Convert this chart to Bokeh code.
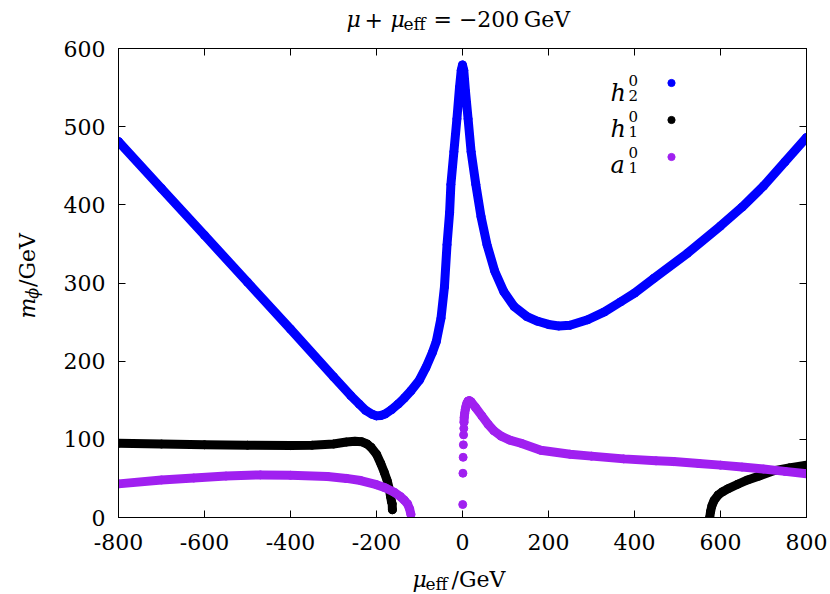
from math import pi
from bokeh.plotting import figure
from bokeh.layouts import column, row
from bokeh.core.properties import value
from bokeh.models import (Range1d, LinearAxis, FixedTicker, Label, Legend,
                          LegendItem, CustomJSTickFormatter)
from bokeh.embed import file_html
from bokeh.resources import INLINE

# ---------------- data ----------------
h2_x = [-800, -700, -600, -500, -400, -300, -260, -240, -225, -210, -200, -190,
        -180, -165, -150, -135, -120, -100, -85, -70, -61, -50, -42, -36, -30,
        -27, -20, -13, -7, -3, 0, 3, 7, 13, 20, 31, 43, 57, 75, 96, 120, 150,
        175, 200, 224, 250, 291, 330, 368, 400, 445, 523, 600, 650, 700, 750, 800]
h2_y = [481, 421, 361, 301, 241, 180, 156, 145, 137, 132, 130, 130.5,
        132.5, 138, 145, 153, 162, 176, 192, 211, 225, 255, 295, 349, 390,
        426, 468, 510, 550, 572, 579, 572, 545, 510, 468, 426, 385, 349, 315, 289, 270, 257,
        251, 247, 245, 246, 253, 263, 276, 287, 306, 338, 373, 397, 424, 455, 486]

h1_left_x = [-800, -700, -600, -500, -400, -350, -300, -270, -250, -235, -222, -213,
             -200, -190, -182, -175, -170, -167, -165, -163.5, -163]
h1_left_y = [95, 94, 93, 92.5, 92, 92.5, 94, 96.5, 97.5, 97, 94, 90,
             81, 69, 58, 47, 36, 26, 20, 17.5, 10]
h1_right_x = [575, 577, 580, 585, 595, 605, 617, 640, 663, 690, 725, 760, 800]
h1_right_y = [0.5, 8, 15, 21.7, 29, 33, 36.7, 42.5, 48, 53, 60, 63.5, 67]

a1_left_x = [-800, -700, -625, -550, -470, -400, -314, -270, -237, -200, -180,
             -159, -145, -135, -128, -123, -120]
a1_left_y = [43, 48, 50.5, 53, 54.5, 54, 52.4, 50, 47.3, 42, 38,
             32.3, 27, 22, 17.5, 11, 4]
a1_right_x = [0.5, 1, 1.5, 2, 2.5, 3, 3.5, 4, 5, 6.5, 8, 10, 13, 16, 20, 30, 45,
              60, 73, 90, 110, 136, 182, 250, 300, 375, 450, 491, 550, 600, 650,
              700, 750, 800]
a1_right_y = [16.6, 56.6, 77, 93, 105.7, 114, 121.8, 128, 133, 138, 142, 146, 149,
              149.5, 148, 141, 130, 119, 111, 104, 99, 95, 86, 81, 78.5, 75, 72.5,
              71.5, 69, 67, 64.5, 62, 59, 56]

x_ticks = [-800, -600, -400, -200, 0, 200, 400, 600, 800]
y_ticks = [0, 100, 200, 300, 400, 500, 600]

BLUE = "#0000ff"
BLACK = "#000000"
PURPLE = "#a020f0"
FONT = "DejaVu Serif"

# window layout: title strip on top, main plot, x-label strip at bottom; y-label strip on the left
W, H = 830, 594
TITLE_H, XLAB_H, YLAB_W = 37, 34, 45
MAIN_W, MAIN_H = W - YLAB_W, H - TITLE_H - XLAB_H
FL, FB = 118, 517          # frame left / bottom in window pixels
FR, FT = 805.5, 48.5       # frame right / top in window pixels

p = figure(width=MAIN_W, height=MAIN_H, x_range=Range1d(-800, 800), y_range=Range1d(0, 600),
           output_backend="svg", toolbar_location=None,
           min_border_left=FL - YLAB_W, min_border_right=int(W - FR),
           min_border_top=int(FT - TITLE_H), min_border_bottom=TITLE_H + MAIN_H - FB)
p.xgrid.visible = False
p.ygrid.visible = False
p.outline_line_color = "black"

def style_axis(ax, labels=True):
    ax.major_tick_in = 7
    ax.major_tick_out = 0
    ax.minor_tick_in = 0
    ax.minor_tick_out = 0
    ax.axis_line_color = "black"
    ax.axis_line_width = 1
    ax.major_tick_line_color = "black"
    ax.major_label_text_font = FONT
    ax.major_label_text_color = "black"
    if labels:
        ax.major_label_text_font_size = "22px"
        ax.formatter = CustomJSTickFormatter(code="return tick.toFixed(0)")
    else:
        ax.major_label_text_font_size = "0px"
        ax.major_label_standoff = 0
        ax.formatter = CustomJSTickFormatter(code="return ''")

p.xaxis.ticker = FixedTicker(ticks=x_ticks)
p.yaxis.ticker = FixedTicker(ticks=y_ticks)
style_axis(p.xaxis[0])
style_axis(p.yaxis[0])
p.xaxis.major_label_standoff = 16
p.yaxis.major_label_standoff = 13

top = LinearAxis(ticker=FixedTicker(ticks=x_ticks))
right = LinearAxis(ticker=FixedTicker(ticks=y_ticks))
style_axis(top, labels=False)
style_axis(right, labels=False)
p.add_layout(top, "above")
p.add_layout(right, "right")

# ---------------- series ----------------
LW = 9
def band(xs, ys, color):
    p.line(xs, ys, line_color=color, line_width=LW, line_join="round", line_cap="round")

band(h2_x, h2_y, BLUE)
r_h2 = p.scatter(h2_x, h2_y, size=8, color=BLUE)

band(h1_left_x, h1_left_y, BLACK)
band(h1_right_x, h1_right_y, BLACK)
r_h1 = p.scatter(h1_left_x + h1_right_x, h1_left_y + h1_right_y, size=8, color=BLACK)

band(a1_left_x, a1_left_y, PURPLE)
band(a1_right_x[6:], a1_right_y[6:], PURPLE)
r_a1 = p.scatter(a1_left_x + a1_right_x, a1_left_y + a1_right_y, size=8, color=PURPLE)

# ---------------- legend (glyph only; texts as labels on the left) ----------------
legend = Legend(items=[LegendItem(label=" ", renderers=[r_h2]),
                       LegendItem(label=" ", renderers=[r_h1]),
                       LegendItem(label=" ", renderers=[r_a1])],
                location=(661.7 - FL, FB - 175.0),
                glyph_width=18, glyph_height=37, label_width=0, label_standoff=0,
                label_height=10, label_text_font_size="1px", padding=0, margin=0,
                spacing=0, border_line_color=None, background_fill_alpha=0)
p.add_layout(legend)

def lab(text, wx, wy, size=22, italic=False):
    p.add_layout(Label(x=wx - FL, y=FB - wy, x_units="screen", y_units="screen",
                       text=text, text_font=FONT, text_font_size=f"{size}px",
                       text_font_style="italic" if italic else "normal",
                       text_color="black", text_align="left",
                       text_baseline="alphabetic"))

for i, (main, sub) in enumerate([("h", "2"), ("h", "1"), ("a", "1")]):
    base = 92 + i * 36
    lab(main, 610, base, size=24, italic=True)
    lab("0", 628, base - 12, size=15)
    lab(sub, 628, base + 3, size=15)

# ---------------- text strips ----------------
def tfig(w, h):
    f = figure(width=w, height=h, x_range=Range1d(0, w), y_range=Range1d(0, h),
               x_axis_type=None, y_axis_type=None, output_backend="svg",
               toolbar_location=None, min_border=0, outline_line_color=None)
    return f

def txt(f, s, x, y, size=22, italic=False, angle=0.0):
    f.text(x=[x], y=[y], text=[s], text_font=value(FONT),
           text_font_size=value(f"{size}px"),
           text_font_style="italic" if italic else "normal",
           text_align="left", text_baseline="alphabetic", angle=angle,
           text_color="black")

# title (window baseline y = 19)
t = tfig(W, TITLE_H)
tb = TITLE_H - 19
txt(t, "\u03bc", 346, tb, italic=True)
txt(t, "+", 364, tb)
txt(t, "\u03bc", 390, tb, italic=True)
txt(t, "eff", 403, tb - 4, size=17)
txt(t, "= \u2212200\u2009GeV", 433, tb)

# x label (window baseline y = 579)
xl = tfig(W, XLAB_H)
xb = H - 579
txt(xl, "\u03bc", 412, xb, italic=True)
txt(xl, "eff", 425, xb - 4, size=17)
txt(xl, "/GeV", 451, xb)

# y label (rotated), strip spans window y TITLE_H..TITLE_H+MAIN_H
yl = tfig(YLAB_W, MAIN_H)
def yy(wy):
    return TITLE_H + MAIN_H - wy
txt(yl, "m", 27, yy(338), italic=True, angle=pi / 2)
txt(yl, "\u03d5", 32, yy(316), size=16, italic=True, angle=pi / 2)
txt(yl, "/GeV", 27, yy(303), angle=pi / 2)

layout = column(t, row(yl, p), xl)
open("out.html", "w").write(file_html(layout, INLINE))
